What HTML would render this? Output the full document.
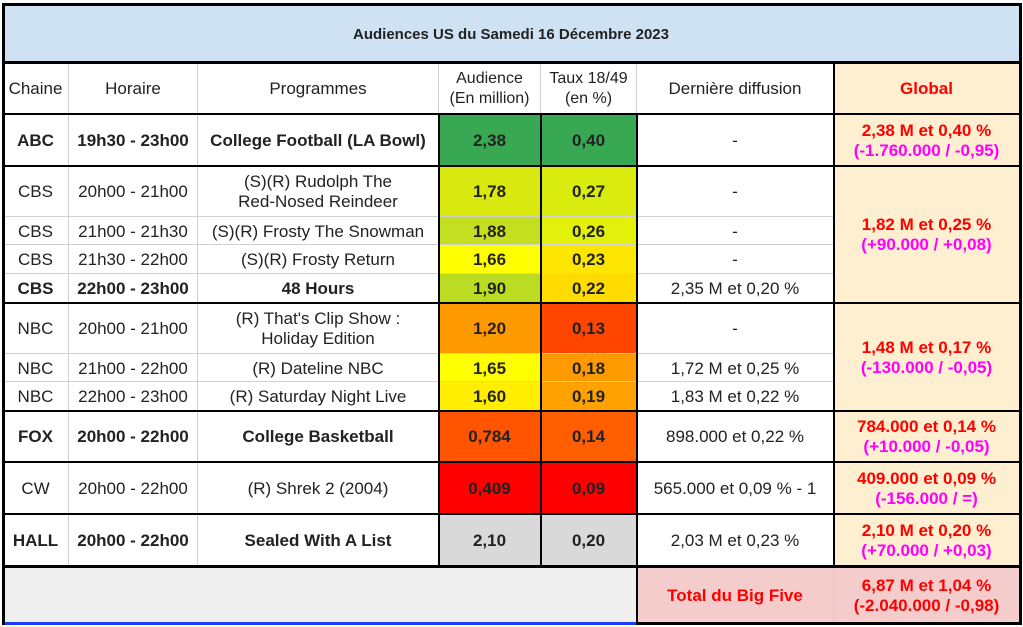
<!DOCTYPE html><html><head><meta charset="utf-8"><style>
body{margin:0;width:1023px;height:627px;background:#fff;position:relative;overflow:hidden;font-family:"Liberation Sans",sans-serif;font-size:17px;color:#222}
.c{position:absolute;display:flex;align-items:center;justify-content:center;text-align:center;box-sizing:border-box;border-right:1px solid #d0d0d0;border-bottom:1px solid #d0d0d0;line-height:20px;padding-top:2px}
.b{font-weight:bold}
.k{position:absolute;background:#000}
.r{color:#ff0000;font-weight:bold}
.m{color:#ff00ff;font-weight:bold}
</style></head><body>
<div class="c b" style="left:3px;top:4px;width:1017px;height:58px;background:#cfe2f3;font-size:15px;padding-top:4px">Audiences US du Samedi 16 Décembre 2023</div>
<div class="c" style="left:3px;top:62px;width:66px;height:52px">Chaine</div>
<div class="c" style="left:69px;top:62px;width:129px;height:52px">Horaire</div>
<div class="c" style="left:198px;top:62px;width:241px;height:52px">Programmes</div>
<div class="c" style="left:439px;top:62px;width:102px;height:52px;font-size:16px">Audience<br>(En million)</div>
<div class="c" style="left:541px;top:62px;width:96px;height:52px;font-size:16px">Taux 18/49<br>(en %)</div>
<div class="c" style="left:637px;top:62px;width:197px;height:52px">Dernière diffusion</div>
<div class="c r" style="left:834px;top:62px;width:186px;height:52px;background:#fdefcf">Global</div>

<div class="c b" style="left:3px;top:114px;width:66px;height:52px">ABC</div>
<div class="c b" style="left:69px;top:114px;width:129px;height:52px">19h30 - 23h00</div>
<div class="c b" style="left:198px;top:114px;width:241px;height:52px">College Football (LA Bowl)</div>
<div class="c b" style="left:439px;top:114px;width:102px;height:52px;background:#38a853">2,38</div>
<div class="c b" style="left:541px;top:114px;width:96px;height:52px;background:#38a853">0,40</div>
<div class="c" style="left:637px;top:114px;width:197px;height:52px">-</div>
<div class="c" style="left:834px;top:114px;width:186px;height:52px;background:#fdefcf"><div><span class="r">2,38 M et 0,40 %</span><br><span class="m">(-1.760.000 / -0,95)</span></div></div>

<div class="c" style="left:3px;top:166px;width:66px;height:51px">CBS</div>
<div class="c" style="left:69px;top:166px;width:129px;height:51px">20h00 - 21h00</div>
<div class="c" style="left:198px;top:166px;width:241px;height:51px">(S)(R) Rudolph The<br>Red-Nosed Reindeer</div>
<div class="c b" style="left:439px;top:166px;width:102px;height:51px;background:#d9e80f">1,78</div>
<div class="c b" style="left:541px;top:166px;width:96px;height:51px;background:#d9ec0d">0,27</div>
<div class="c" style="left:637px;top:166px;width:197px;height:51px">-</div>

<div class="c" style="left:3px;top:217px;width:66px;height:28px">CBS</div>
<div class="c" style="left:69px;top:217px;width:129px;height:28px">21h00 - 21h30</div>
<div class="c" style="left:198px;top:217px;width:241px;height:28px">(S)(R) Frosty The Snowman</div>
<div class="c b" style="left:439px;top:217px;width:102px;height:28px;background:#c4de20">1,88</div>
<div class="c b" style="left:541px;top:217px;width:96px;height:28px;background:#e2f00a">0,26</div>
<div class="c" style="left:637px;top:217px;width:197px;height:28px">-</div>

<div class="c" style="left:3px;top:245px;width:66px;height:29px">CBS</div>
<div class="c" style="left:69px;top:245px;width:129px;height:29px">21h30 - 22h00</div>
<div class="c" style="left:198px;top:245px;width:241px;height:29px">(S)(R) Frosty Return</div>
<div class="c b" style="left:439px;top:245px;width:102px;height:29px;background:#ffff00">1,66</div>
<div class="c b" style="left:541px;top:245px;width:96px;height:29px;background:#ffe600">0,23</div>
<div class="c" style="left:637px;top:245px;width:197px;height:29px">-</div>

<div class="c b" style="left:3px;top:274px;width:66px;height:29px">CBS</div>
<div class="c b" style="left:69px;top:274px;width:129px;height:29px">22h00 - 23h00</div>
<div class="c b" style="left:198px;top:274px;width:241px;height:29px">48 Hours</div>
<div class="c b" style="left:439px;top:274px;width:102px;height:29px;background:#bbdc22">1,90</div>
<div class="c b" style="left:541px;top:274px;width:96px;height:29px;background:#ffdc00">0,22</div>
<div class="c" style="left:637px;top:274px;width:197px;height:29px">2,35 M et 0,20 %</div>
<div class="c" style="left:834px;top:166px;width:186px;height:137px;background:#fdefcf"><div><span class="r">1,82 M et 0,25 %</span><br><span class="m">(+90.000 / +0,08)</span></div></div>

<div class="c" style="left:3px;top:303px;width:66px;height:51px">NBC</div>
<div class="c" style="left:69px;top:303px;width:129px;height:51px">20h00 - 21h00</div>
<div class="c" style="left:198px;top:303px;width:241px;height:51px">(R) That's Clip Show :<br>Holiday Edition</div>
<div class="c b" style="left:439px;top:303px;width:102px;height:51px;background:#ff9900">1,20</div>
<div class="c b" style="left:541px;top:303px;width:96px;height:51px;background:#ff4500">0,13</div>
<div class="c" style="left:637px;top:303px;width:197px;height:51px">-</div>

<div class="c" style="left:3px;top:354px;width:66px;height:28px">NBC</div>
<div class="c" style="left:69px;top:354px;width:129px;height:28px">21h00 - 22h00</div>
<div class="c" style="left:198px;top:354px;width:241px;height:28px">(R) Dateline NBC</div>
<div class="c b" style="left:439px;top:354px;width:102px;height:28px;background:#ffff00">1,65</div>
<div class="c b" style="left:541px;top:354px;width:96px;height:28px;background:#ff9a00">0,18</div>
<div class="c" style="left:637px;top:354px;width:197px;height:28px">1,72 M et 0,25 %</div>

<div class="c" style="left:3px;top:382px;width:66px;height:29px">NBC</div>
<div class="c" style="left:69px;top:382px;width:129px;height:29px">22h00 - 23h00</div>
<div class="c" style="left:198px;top:382px;width:241px;height:29px">(R) Saturday Night Live</div>
<div class="c b" style="left:439px;top:382px;width:102px;height:29px;background:#ffee00">1,60</div>
<div class="c b" style="left:541px;top:382px;width:96px;height:29px;background:#ffa200">0,19</div>
<div class="c" style="left:637px;top:382px;width:197px;height:29px">1,83 M et 0,22 %</div>
<div class="c" style="left:834px;top:303px;width:186px;height:108px;background:#fdefcf"><div><span class="r">1,48 M et 0,17 %</span><br><span class="m">(-130.000 / -0,05)</span></div></div>

<div class="c b" style="left:3px;top:411px;width:66px;height:51px">FOX</div>
<div class="c b" style="left:69px;top:411px;width:129px;height:51px">20h00 - 22h00</div>
<div class="c b" style="left:198px;top:411px;width:241px;height:51px">College Basketball</div>
<div class="c b" style="left:439px;top:411px;width:102px;height:51px;background:#ff5500">0,784</div>
<div class="c b" style="left:541px;top:411px;width:96px;height:51px;background:#ff5f00">0,14</div>
<div class="c" style="left:637px;top:411px;width:197px;height:51px">898.000 et 0,22 %</div>
<div class="c" style="left:834px;top:411px;width:186px;height:51px;background:#fdefcf"><div><span class="r">784.000 et 0,14 %</span><br><span class="m">(+10.000 / -0,05)</span></div></div>

<div class="c" style="left:3px;top:462px;width:66px;height:52px">CW</div>
<div class="c" style="left:69px;top:462px;width:129px;height:52px">20h00 - 22h00</div>
<div class="c" style="left:198px;top:462px;width:241px;height:52px">(R) Shrek 2 (2004)</div>
<div class="c b" style="left:439px;top:462px;width:102px;height:52px;background:#ff0000">0,409</div>
<div class="c b" style="left:541px;top:462px;width:96px;height:52px;background:#ff0000">0,09</div>
<div class="c" style="left:637px;top:462px;width:197px;height:52px">565.000 et 0,09 % - 1</div>
<div class="c" style="left:834px;top:462px;width:186px;height:52px;background:#fdefcf"><div><span class="r">409.000 et 0,09 %</span><br><span class="m">(-156.000 / =)</span></div></div>

<div class="c b" style="left:3px;top:514px;width:66px;height:52px">HALL</div>
<div class="c b" style="left:69px;top:514px;width:129px;height:52px">20h00 - 22h00</div>
<div class="c b" style="left:198px;top:514px;width:241px;height:52px">Sealed With A List</div>
<div class="c b" style="left:439px;top:514px;width:102px;height:52px;background:#d9d9d9">2,10</div>
<div class="c b" style="left:541px;top:514px;width:96px;height:52px;background:#d9d9d9">0,20</div>
<div class="c" style="left:637px;top:514px;width:197px;height:52px">2,03 M et 0,23 %</div>
<div class="c" style="left:834px;top:514px;width:186px;height:52px;background:#fdefcf"><div><span class="r">2,10 M et 0,20 %</span><br><span class="m">(+70.000 / +0,03)</span></div></div>

<div class="c" style="left:3px;top:566px;width:634px;height:58px;background:#efefef"></div>
<div class="c r" style="left:637px;top:566px;width:197px;height:58px;background:#f4cccc">Total du Big Five</div>
<div class="c r" style="left:834px;top:566px;width:186px;height:58px;background:#f4cccc">6,87 M et 1,04 %<br>(-2.040.000 / -0,98)</div>
<div style="position:absolute;left:3px;top:622px;width:634px;height:3px;background:#1a3cff"></div>

<div class="k" style="left:2px;top:3px;width:1020px;height:3px"></div>
<div class="k" style="left:2px;top:61px;width:1020px;height:3px"></div>
<div class="k" style="left:2px;top:113px;width:1020px;height:2px"></div>
<div class="k" style="left:2px;top:165px;width:1020px;height:2px"></div>
<div class="k" style="left:2px;top:302px;width:1020px;height:2px"></div>
<div class="k" style="left:2px;top:410px;width:1020px;height:2px"></div>
<div class="k" style="left:2px;top:461px;width:1020px;height:2px"></div>
<div class="k" style="left:2px;top:513px;width:1020px;height:2px"></div>
<div class="k" style="left:2px;top:565px;width:1020px;height:3px"></div>
<div class="k" style="left:637px;top:622px;width:385px;height:3px"></div>
<div class="k" style="left:2px;top:3px;width:3px;height:622px"></div>
<div class="k" style="left:1019px;top:3px;width:3px;height:622px"></div>
<div class="k" style="left:438px;top:114px;width:2px;height:452px"></div>
<div class="k" style="left:540px;top:114px;width:2px;height:452px"></div>
<div class="k" style="left:636px;top:114px;width:2px;height:511px"></div>
<div class="k" style="left:833px;top:62px;width:2px;height:504px"></div>
</body></html>
